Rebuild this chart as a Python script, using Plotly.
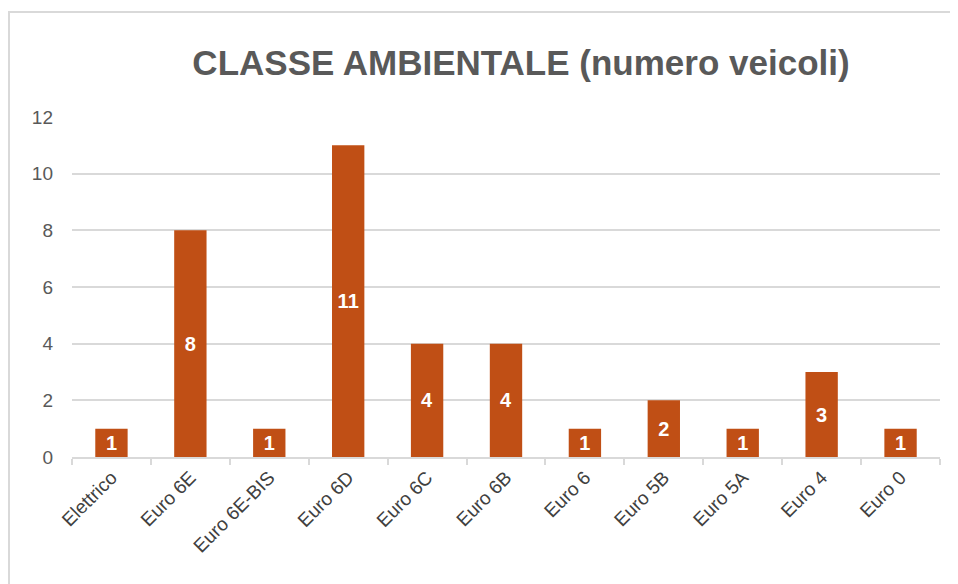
import plotly.graph_objects as go

categories = ["Elettrico", "Euro 6E", "Euro 6E-BIS", "Euro 6D", "Euro 6C", "Euro 6B",
              "Euro 6", "Euro 5B", "Euro 5A", "Euro 4", "Euro 0"]
values = [1, 8, 1, 11, 4, 4, 1, 2, 1, 3, 1]
y_ticks = [0, 2, 4, 6, 8, 10, 12]

OFF = 8  # page body margin
W, H = 958 - OFF, 584 - OFF
L, R, T, B = 72 - OFF, 18, 117 - OFF, 127
pw, ph = W - L - R, H - T - B

fig = go.Figure(go.Bar(
    x=categories, y=values,
    marker=dict(color="#C04F15", line=dict(width=0)),
    text=[str(v) for v in values],
    textposition="inside", insidetextanchor="middle",
    textfont=dict(family="Liberation Sans, Arial, sans-serif", size=20, color="white", weight="bold"),
    textangle=0,
    cliponaxis=False,
))

fig.update_layout(
    width=W, height=H,
    margin=dict(l=L, r=R, t=T, b=B),
    paper_bgcolor="white", plot_bgcolor="white",
    bargap=0.59,
    showlegend=False,
    title=dict(
        text="<b>CLASSE AMBIENTALE (numero veicoli)</b>",
        font=dict(family="Liberation Sans, Arial, sans-serif", size=35, color="#595959"),
        x=(521 - OFF) / W, xanchor="center", y=1 - (63 - OFF) / H, yanchor="middle",
    ),
    xaxis=dict(
        tickangle=-45,
        tickfont=dict(family="Liberation Sans, Arial, sans-serif", size=19, color="#404040"),
        showline=True, linecolor="#D9D9D9", linewidth=2,
        ticks="outside", tickson="boundaries", ticklen=6, tickcolor="#D9D9D9", tickwidth=2,
        showgrid=False,
    ),
    yaxis=dict(
        range=[0, 12], tickvals=y_ticks,
        tickfont=dict(family="Liberation Sans, Arial, sans-serif", size=19, color="#595959"),
        showgrid=True, gridcolor="#D9D9D9", gridwidth=2,
        zeroline=False, ticks="", showline=False,
        ticklabelstandoff=18,
    ),
    shapes=[dict(
        type="rect", xref="paper", yref="paper",
        x0=(1 - L) / pw, x1=(W + 20 - L) / pw,
        y0=-(H + 20 - T - ph) / ph, y1=(T + ph - (12 - OFF)) / ph,
        line=dict(color="#D9D9D9", width=2), fillcolor="rgba(0,0,0,0)", layer="below",
    )],
)

fig.write_html("out.html")
